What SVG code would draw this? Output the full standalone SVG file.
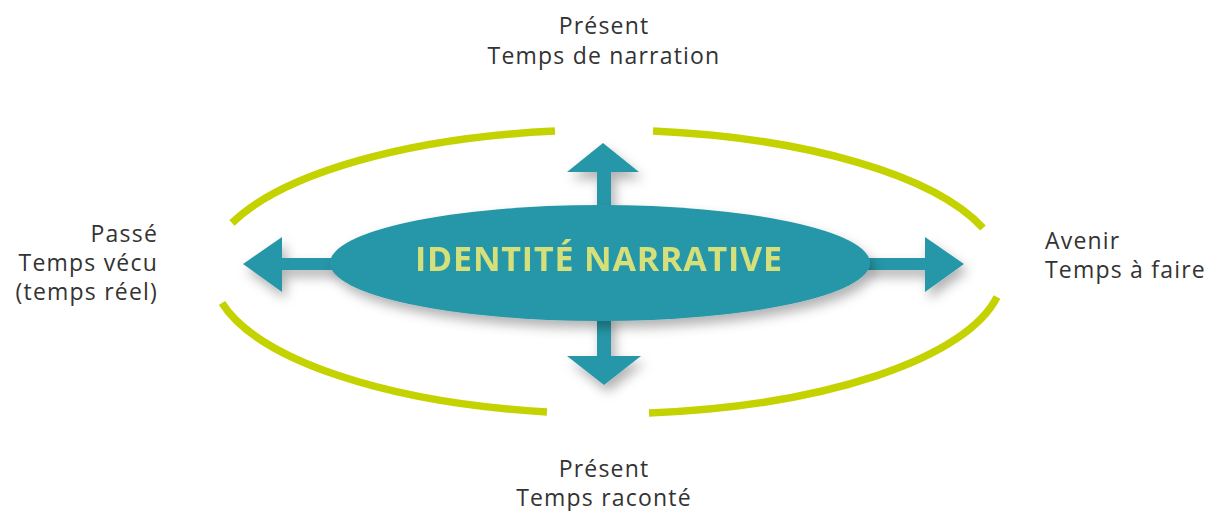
<svg xmlns="http://www.w3.org/2000/svg" width="1207" height="511" viewBox="0 0 1207 511">
  <style>
    .label { font-family: "Open Sans", "Noto Sans", "Liberation Sans", sans-serif; font-size: 23px; fill: #333333; letter-spacing: 1.2px; }
    .title { font-family: "Open Sans", "Noto Sans", "Liberation Sans", sans-serif; font-size: 34px; font-weight: bold; fill: #d6e07a; }
    .ring { fill: none; stroke: #c4d300; stroke-width: 7.5; }
    .teal { fill: #2797a8; }
  </style>
  <defs>
    <filter id="soft-shadow" x="-20%" y="-40%" width="140%" height="180%">
      <feDropShadow dx="4" dy="7" stdDeviation="6" flood-color="#000000" flood-opacity="0.3"/>
    </filter>
  </defs>

  <!-- outer ring, broken into four arcs -->
  <g id="ring">
    <path class="ring" d="M 232 223 A 398 142 0 0 1 555 131"/>
    <path class="ring" d="M 653 131 A 398 142 0 0 1 983 228"/>
    <path class="ring" d="M 997 297 A 398 142 0 0 1 649 413"/>
    <path class="ring" d="M 547 412 A 398 142 0 0 1 222 303"/>
  </g>

  <!-- arrows radiating from the central ellipse -->
  <g id="connectors" class="teal" filter="url(#soft-shadow)">
    <!-- left -->
    <rect x="280" y="258" width="56" height="12"/>
    <polygon points="282,237 243,264 282,292"/>
    <!-- right -->
    <rect x="864" y="258" width="63" height="12"/>
    <polygon points="925,237 964,264 925,292"/>
    <!-- up -->
    <rect x="597" y="170" width="14" height="42"/>
    <polygon points="567,172 603,143 639,172"/>
    <!-- down -->
    <rect x="597" y="314" width="14" height="44"/>
    <polygon points="567,356 604,385 641,356"/>
  </g>

  <g id="identite-narrative" filter="url(#soft-shadow)">
    <ellipse class="teal" cx="600" cy="263" rx="270" ry="58"/>
    <text class="title" x="598.5" y="271" text-anchor="middle" textLength="367" lengthAdjust="spacing">IDENTITÉ NARRATIVE</text>
  </g>

  <g id="present-narration">
    <text class="label" x="604" y="34" text-anchor="middle">Présent</text>
    <text class="label" x="604" y="64" text-anchor="middle">Temps de narration</text>
  </g>

  <g id="present-raconte">
    <text class="label" x="604" y="477" text-anchor="middle">Présent</text>
    <text class="label" x="604" y="506" text-anchor="middle">Temps raconté</text>
  </g>

  <g id="passe">
    <text class="label" x="158" y="242" text-anchor="end">Passé</text>
    <text class="label" x="158" y="271" text-anchor="end">Temps vécu</text>
    <text class="label" x="158" y="300" text-anchor="end">(temps réel)</text>
  </g>

  <g id="avenir">
    <text class="label" x="1045" y="249">Avenir</text>
    <text class="label" x="1045" y="278">Temps à faire</text>
  </g>
</svg>
